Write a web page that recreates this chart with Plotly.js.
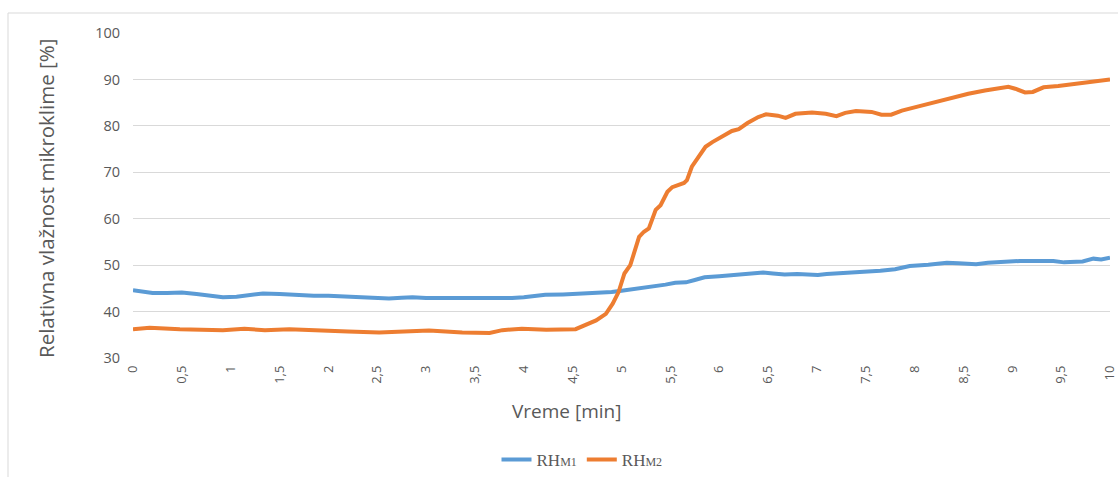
<!DOCTYPE html>
<html>
<head>
<meta charset="utf-8">
<script src="https://cdn.plot.ly/plotly-3.0.1.min.js"></script>
<style>
  html, body { margin: 0; padding: 0; background: #ffffff; }
  #chart { width: 1118px; height: 477px; }
</style>
</head>
<body>
<div id="chart"></div>
<script>
// ---- Data ----
const seriesNames = ["RH<span style=\"font-size:12px\">M1</span>", "RH<span style=\"font-size:12px\">M2</span>"];

const timeM1 = [0, 0.1, 0.2, 0.35, 0.5, 0.65, 0.8, 0.92, 1.06, 1.2, 1.33, 1.5, 1.67, 1.85, 2.0, 2.2, 2.35, 2.5, 2.62, 2.75, 2.86, 3.0, 3.2, 3.35, 3.54, 3.7, 3.88, 4.0, 4.1, 4.22, 4.4, 4.56, 4.75, 4.9, 5.0, 5.16, 5.32, 5.45, 5.55, 5.66, 5.75, 5.85, 6.0, 6.15, 6.3, 6.45, 6.55, 6.67, 6.8, 7.01, 7.1, 7.2, 7.39, 7.55, 7.65, 7.8, 7.95, 8.14, 8.33, 8.45, 8.63, 8.75, 8.89, 9.08, 9.25, 9.42, 9.53, 9.72, 9.83, 9.91, 10];
const rhM1 = [44.6, 44.2, 44.0, 44.0, 44.1, 43.8, 43.4, 43.1, 43.2, 43.6, 43.9, 43.8, 43.5, 43.4, 43.4, 43.2, 43.0, 42.9, 42.8, 43.0, 43.1, 42.9, 42.9, 42.8, 42.7, 42.8, 42.9, 43.1, 43.4, 43.6, 43.7, 43.8, 44.0, 44.2, 44.5, 44.9, 45.3, 45.8, 46.2, 46.3, 46.8, 47.4, 47.6, 47.8, 48.1, 48.4, 48.2, 48.0, 48.1, 47.9, 48.1, 48.2, 48.4, 48.6, 48.8, 49.1, 49.8, 50.1, 50.5, 50.4, 50.2, 50.5, 50.7, 50.9, 50.9, 50.9, 50.6, 50.8, 51.4, 51.2, 51.6];

const timeM2 = [0, 0.17, 0.48, 0.92, 1.14, 1.35, 1.6, 1.9, 2.2, 2.52, 2.73, 3.03, 3.2, 3.37, 3.65, 3.78, 3.98, 4.23, 4.53, 4.63, 4.74, 4.84, 4.91, 4.97, 5.03, 5.09, 5.18, 5.23, 5.28, 5.35, 5.40, 5.47, 5.52, 5.64, 5.67, 5.72, 5.86, 5.93, 6.03, 6.13, 6.20, 6.29, 6.40, 6.48, 6.60, 6.68, 6.78, 6.95, 7.09, 7.20, 7.29, 7.40, 7.56, 7.66, 7.76, 7.87, 8.04, 8.24, 8.38, 8.55, 8.72, 8.96, 9.03, 9.13, 9.21, 9.32, 9.47, 9.74, 10];
const rhM2 = [36.2, 36.5, 36.2, 36.0, 36.3, 36.0, 36.2, 35.9, 35.7, 35.5, 35.7, 35.9, 35.7, 35.5, 35.4, 36.0, 36.3, 36.1, 36.2, 37.2, 38.1, 39.5, 41.7, 44.2, 48.2, 50.0, 56.1, 57.2, 57.9, 61.9, 62.9, 65.8, 66.8, 67.7, 68.3, 71.2, 75.5, 76.5, 77.8, 78.9, 79.3, 80.6, 81.9, 82.5, 82.2, 81.7, 82.6, 82.9, 82.6, 82.1, 82.8, 83.2, 83.0, 82.4, 82.4, 83.3, 84.2, 85.3, 86.1, 86.9, 87.6, 88.4, 88.0, 87.2, 87.3, 88.3, 88.6, 89.3, 90.0];

const xTickVals = [0, 0.5, 1, 1.5, 2, 2.5, 3, 3.5, 4, 4.5, 5, 5.5, 6, 6.5, 7, 7.5, 8, 8.5, 9, 9.5, 10];
const xTickText = ["0", "0,5", "1", "1,5", "2", "2,5", "3", "3,5", "4", "4,5", "5", "5,5", "6", "6,5", "7", "7,5", "8", "8,5", "9", "9,5", "10"];
const yTickVals = [30, 40, 50, 60, 70, 80, 90, 100];

const xTitle = "Vreme [min]";
const yTitle = "Relativna vlažnost mikroklime [%]";

// ---- Figure ----
const W = 1118, H = 477;
const L = 133, R = 8, T = 33, B = 119;
const pw = W - L - R, ph = H - T - B;
const px = v => (v - L) / pw;          // pixel x -> paper x
const py = v => (H - B - v) / ph;      // pixel y -> paper y

const traces = [
  { x: timeM1, y: rhM1, name: seriesNames[0], type: "scatter", mode: "lines",
    line: { color: "#5b9bd5", width: 4 } },
  { x: timeM2, y: rhM2, name: seriesNames[1], type: "scatter", mode: "lines",
    line: { color: "#ed7d31", width: 4 } }
];

const grey = "#595959";
const layout = {
  width: W, height: H,
  margin: { l: L, r: R, t: T, b: B, pad: 0, autoexpand: false },
  paper_bgcolor: "#ffffff", plot_bgcolor: "#ffffff",
  font: { family: "Open Sans, sans-serif", color: grey },
  showlegend: true,
  legend: {
    orientation: "h", x: px(582), xanchor: "center", y: py(460), yanchor: "middle",
    font: { family: "Liberation Serif, serif", size: 17, color: grey },
    itemwidth: 30, tracegroupgap: 0
  },
  xaxis: {
    range: [0, 10], tickmode: "array", tickvals: xTickVals, ticktext: xTickText,
    tickangle: -90, showgrid: false, zeroline: false, showline: false,
    ticks: "", ticklabelstandoff: 4, ticklabeloverflow: "allow", automargin: false,
    tickfont: { size: 13, color: grey, family: "Open Sans, sans-serif" },
    fixedrange: true
  },
  yaxis: {
    range: [30, 100], tickmode: "array", tickvals: yTickVals,
    showgrid: true, gridcolor: "#d9d9d9", gridwidth: 1, zeroline: false, showline: false,
    ticks: "", ticklabelstandoff: 12, automargin: false,
    tickfont: { size: 14.5, color: grey, family: "Open Sans, sans-serif" },
    fixedrange: true
  },
  annotations: [
    { text: xTitle, xref: "paper", yref: "paper", x: px(566), y: py(411),
      xanchor: "center", yanchor: "middle", showarrow: false,
      font: { size: 19, color: grey, family: "Open Sans, sans-serif" } },
    { text: yTitle, xref: "paper", yref: "paper", x: px(46), y: py(199),
      xanchor: "center", yanchor: "middle", textangle: -90, showarrow: false,
      font: { size: 20.5, color: grey, family: "Open Sans, sans-serif" } }
  ],
  shapes: [
    { type: "rect", xref: "paper", yref: "paper",
      x0: px(8), x1: px(1130), y0: py(13), y1: py(500),
      line: { color: "#d9d9d9", width: 1 }, fillcolor: "rgba(0,0,0,0)", layer: "below" }
  ]
};

Plotly.newPlot("chart", traces, layout, { displayModeBar: false, staticPlot: true });
</script>
</body>
</html>
